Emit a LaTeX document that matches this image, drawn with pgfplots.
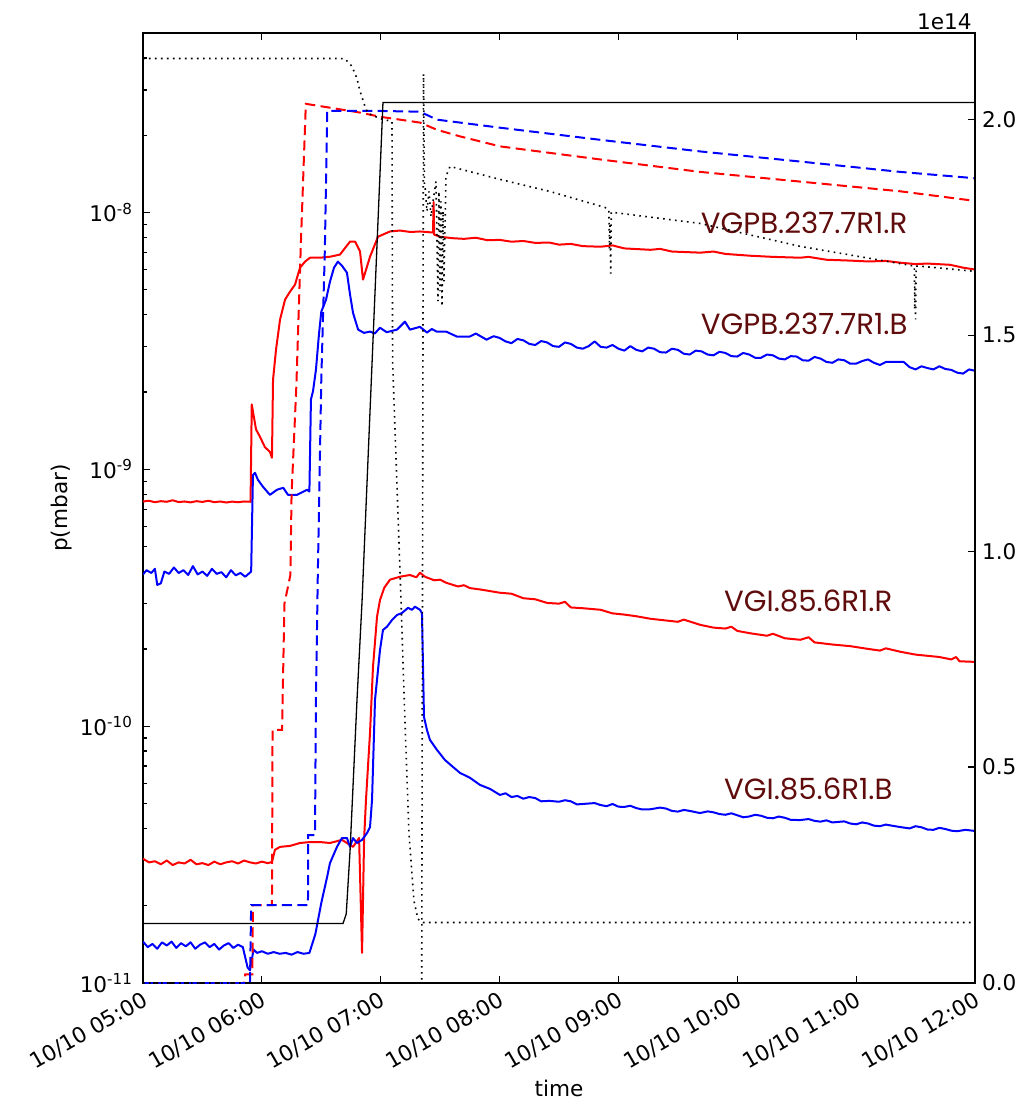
\documentclass[border=0pt]{standalone}
\usepackage{fontspec}
\setmainfont{DejaVu Sans}
\newfontfamily\gaugefont{Poppins}
\usepackage{pgfplots}
\pgfplotsset{compat=1.18}
\definecolor{gaugelabel}{RGB}{96,12,12}
\tikzset{gauge/.style={anchor=west, text=gaugelabel, font=\gaugefont\fontsize{14.6}{16}\selectfont}}
\begin{document}
\begin{tikzpicture}
\pgfplotsset{
  common/.style={
    scale only axis, width=416pt, height=475pt,
    xmin=5, xmax=12,
    tick style={line width=0.6pt, black},
    major tick length=3.5pt, minor tick length=2pt,
    axis line style={line width=0.8pt},
    tick label style={font=\fontsize{10.8}{12.5}\selectfont},
    label style={font=\fontsize{10.8}{12.5}\selectfont},
  },
  pline/.style={line width=1pt, line join=round},
  dline/.style={line width=1pt, dash pattern=on 5pt off 2.7pt},
  bdot/.style={black, line width=0.8pt, dash pattern=on 0.8pt off 2.2pt},
}
% pressure axis (left, logarithmic)
\begin{axis}[common, name=main, ymode=log, ymin=1e-11, ymax=5e-8,
  xtick={5,6,7,8,9,10,11,12},
  xticklabels={10/10 05:00,10/10 06:00,10/10 07:00,10/10 08:00,10/10 09:00,10/10 10:00,10/10 11:00,10/10 12:00},
  xticklabel style={rotate=30, anchor=north east, inner sep=2.5pt},
  ytick={1e-11,1e-10,1e-9,1e-8},
  yticklabels={10\textsuperscript{-11},10\textsuperscript{-10},10\textsuperscript{-9},10\textsuperscript{-8}},
  minor ytick={2e-11,3e-11,4e-11,5e-11,6e-11,7e-11,8e-11,9e-11,2e-10,3e-10,4e-10,5e-10,6e-10,7e-10,8e-10,9e-10,2e-9,3e-9,4e-9,5e-9,6e-9,7e-9,8e-9,9e-9,2e-8,3e-8,4e-8},
  yticklabel style={xshift=-1.5pt},
  ytick pos=left, xtick pos=both,
  xlabel=time, ylabel=p(mbar),
  xlabel style={at={(axis description cs:0.5,-0.1105)}, anchor=center},
  ylabel style={at={(axis description cs:-0.0974,0.5)}, anchor=center},
]
% VGPB.237.7R1.R
\addplot[pline, red] table {
5.00 7.50e-10
5.05 7.55e-10
5.10 7.45e-10
5.15 7.52e-10
5.20 7.48e-10
5.25 7.58e-10
5.30 7.46e-10
5.35 7.50e-10
5.40 7.44e-10
5.45 7.52e-10
5.50 7.47e-10
5.55 7.55e-10
5.60 7.45e-10
5.65 7.50e-10
5.70 7.43e-10
5.75 7.49e-10
5.80 7.45e-10
5.85 7.50e-10
5.905 7.48e-10
5.915 1.79e-9
5.951 1.43e-9
5.984 1.34e-9
6.026 1.22e-9
6.068 1.17e-9
6.085 1.11e-9
6.094 2.23e-9
6.119 2.92e-9
6.153 3.83e-9
6.195 4.58e-9
6.237 4.92e-9
6.279 5.24e-9
6.321 6.10e-9
6.363 6.44e-9
6.405 6.67e-9
6.489 6.67e-9
6.573 6.73e-9
6.657 6.86e-9
6.742 7.71e-9
6.784 7.71e-9
6.826 7.05e-9
6.851 5.48e-9
6.91 6.73e-9
6.977 8.05e-9
7.078 8.44e-9
7.162 8.51e-9
7.25 8.40e-9
7.33 8.44e-9
7.44 8.36e-9
7.445 1.10e-8
7.45 8.20e-9
7.50 8.05e-9
7.60 7.95e-9
7.70 7.90e-9
7.80 7.98e-9
7.90 7.80e-9
8.00 7.83e-9
8.10 7.70e-9
8.20 7.75e-9
8.30 7.62e-9
8.42 7.64e-9
8.50 7.50e-9
8.60 7.55e-9
8.70 7.40e-9
8.85 7.36e-9
8.95 7.45e-9
9.05 7.25e-9
9.27 7.16e-9
9.35 7.22e-9
9.45 7.05e-9
9.69 6.98e-9
9.80 7.05e-9
9.90 6.90e-9
10.11 6.79e-9
10.30 6.72e-9
10.53 6.67e-9
10.60 6.72e-9
10.75 6.55e-9
10.95 6.50e-9
11.10 6.45e-9
11.25 6.48e-9
11.37 6.38e-9
11.50 6.30e-9
11.60 6.33e-9
11.79 6.26e-9
11.90 6.10e-9
12.00 6.00e-9
};
% VGPB.237.7R1.B
\addplot[pline, blue] table {
5.00 3.90e-10
5.03 4.05e-10
5.07 3.95e-10
5.10 4.10e-10
5.12 3.55e-10
5.15 3.60e-10
5.18 4.00e-10
5.22 3.92e-10
5.26 4.15e-10
5.30 3.95e-10
5.34 4.05e-10
5.38 3.88e-10
5.42 4.20e-10
5.46 3.90e-10
5.50 4.00e-10
5.54 3.85e-10
5.58 4.10e-10
5.62 3.92e-10
5.66 3.98e-10
5.70 3.80e-10
5.74 4.05e-10
5.78 3.87e-10
5.82 3.95e-10
5.86 3.82e-10
5.91 4.00e-10
5.925 9.50e-10
5.942 9.70e-10
5.967 9.11e-10
6.009 8.56e-10
6.068 7.96e-10
6.127 8.33e-10
6.18 8.48e-10
6.22 7.96e-10
6.295 7.96e-10
6.38 8.33e-10
6.40 8.20e-10
6.413 1.87e-9
6.43 2.01e-9
6.455 2.44e-9
6.48 3.34e-9
6.50 4.11e-9
6.54 4.58e-9
6.573 5.38e-9
6.607 6.10e-9
6.64 6.44e-9
6.674 6.21e-9
6.716 5.83e-9
6.742 4.79e-9
6.767 4.07e-9
6.81 3.50e-9
6.86 3.40e-9
6.91 3.44e-9
6.95 3.38e-9
6.994 3.56e-9
7.05 3.42e-9
7.137 3.50e-9
7.204 3.76e-9
7.246 3.50e-9
7.33 3.59e-9
7.39 3.41e-9
7.43 3.52e-9
7.47 3.44e-9
7.55 3.44e-9
7.64 3.29e-9
7.75 3.29e-9
7.80 3.38e-9
7.89 3.20e-9
7.95 3.30e-9
8.0 3.25e-9
8.05 3.15e-9
8.1 3.10e-9
8.15 3.22e-9
8.2 3.18e-9
8.25 3.08e-9
8.3 3.05e-9
8.35 3.16e-9
8.4 3.12e-9
8.45 3.02e-9
8.5 3.00e-9
8.55 3.12e-9
8.6 3.08e-9
8.65 2.98e-9
8.7 2.95e-9
8.75 3.02e-9
8.8 3.15e-9
8.85 3.00e-9
8.9 2.98e-9
8.95 3.05e-9
9.0 2.95e-9
9.05 2.90e-9
9.1 3.02e-9
9.15 2.92e-9
9.2 2.88e-9
9.25 2.98e-9
9.3 2.95e-9
9.35 2.86e-9
9.4 2.85e-9
9.45 2.95e-9
9.5 2.92e-9
9.55 2.82e-9
9.6 2.80e-9
9.65 2.90e-9
9.7 2.88e-9
9.75 2.80e-9
9.8 2.78e-9
9.85 2.87e-9
9.9 2.84e-9
9.95 2.76e-9
10.0 2.75e-9
10.05 2.84e-9
10.1 2.80e-9
10.15 2.72e-9
10.2 2.72e-9
10.25 2.80e-9
10.3 2.78e-9
10.35 2.70e-9
10.4 2.68e-9
10.45 2.76e-9
10.5 2.75e-9
10.55 2.66e-9
10.6 2.65e-9
10.65 2.74e-9
10.7 2.70e-9
10.75 2.62e-9
10.8 2.60e-9
10.85 2.68e-9
10.9 2.66e-9
10.95 2.58e-9
11.0 2.58e-9
11.05 2.64e-9
11.1 2.68e-9
11.15 2.60e-9
11.2 2.55e-9
11.25 2.62e-9
11.3 2.62e-9
11.4 2.62e-9
11.45 2.50e-9
11.5 2.45e-9
11.55 2.52e-9
11.6 2.48e-9
11.65 2.45e-9
11.7 2.52e-9
11.75 2.46e-9
11.8 2.44e-9
11.85 2.38e-9
11.9 2.36e-9
11.95 2.45e-9
12.0 2.42e-9
};
% VGI.85.6R1.R
\addplot[pline, red] table {
5.00 3.05e-11
5.05 2.95e-11
5.10 2.98e-11
5.15 2.90e-11
5.20 3.00e-11
5.25 2.88e-11
5.30 2.95e-11
5.35 2.92e-11
5.40 3.02e-11
5.45 2.90e-11
5.50 2.93e-11
5.55 2.88e-11
5.60 2.97e-11
5.65 2.90e-11
5.70 2.95e-11
5.75 2.98e-11
5.80 2.92e-11
5.85 3.00e-11
5.90 2.95e-11
5.95 2.92e-11
6.00 2.97e-11
6.05 2.93e-11
6.085 2.96e-11
6.11 3.30e-11
6.153 3.39e-11
6.237 3.42e-11
6.321 3.51e-11
6.405 3.54e-11
6.489 3.54e-11
6.573 3.51e-11
6.674 3.61e-11
6.716 3.51e-11
6.767 3.39e-11
6.818 3.67e-11
6.843 1.31e-11
6.86 3.61e-11
6.876 5.16e-11
6.91 9.42e-11
6.935 1.70e-10
6.969 2.67e-10
6.994 3.10e-10
7.03 3.46e-10
7.078 3.72e-10
7.162 3.82e-10
7.246 3.88e-10
7.30 3.80e-10
7.33 3.96e-10
7.372 3.82e-10
7.45 3.70e-10
7.50 3.72e-10
7.55 3.62e-10
7.65 3.50e-10
7.70 3.54e-10
7.75 3.45e-10
7.85 3.40e-10
8.0 3.31e-10
8.1 3.28e-10
8.2 3.15e-10
8.3 3.12e-10
8.4 3.02e-10
8.5 3.00e-10
8.55 3.05e-10
8.6 2.90e-10
8.7 2.88e-10
8.85 2.84e-10
8.95 2.75e-10
9.05 2.72e-10
9.15 2.68e-10
9.27 2.62e-10
9.4 2.58e-10
9.5 2.55e-10
9.55 2.60e-10
9.69 2.48e-10
9.8 2.42e-10
9.9 2.40e-10
9.95 2.44e-10
10.0 2.35e-10
10.11 2.30e-10
10.25 2.25e-10
10.3 2.29e-10
10.4 2.20e-10
10.53 2.17e-10
10.6 2.22e-10
10.65 2.12e-10
10.8 2.08e-10
10.95 2.05e-10
11.1 2.00e-10
11.2 1.97e-10
11.25 2.01e-10
11.37 1.95e-10
11.5 1.90e-10
11.6 1.88e-10
11.7 1.86e-10
11.80 1.82e-10
11.84 1.86e-10
11.87 1.79e-10
12.0 1.78e-10
};
% VGI.85.6R1.B
\addplot[pline, blue] table {
5.00 1.45e-11
5.04 1.38e-11
5.08 1.42e-11
5.12 1.36e-11
5.16 1.44e-11
5.20 1.40e-11
5.24 1.45e-11
5.28 1.37e-11
5.32 1.43e-11
5.36 1.39e-11
5.40 1.44e-11
5.44 1.36e-11
5.48 1.41e-11
5.52 1.44e-11
5.56 1.38e-11
5.60 1.42e-11
5.64 1.35e-11
5.68 1.40e-11
5.72 1.43e-11
5.76 1.37e-11
5.80 1.41e-11
5.84 1.38e-11
5.88 1.15e-11
5.90 1.12e-11
5.93 1.35e-11
5.96 1.31e-11
6.00 1.33e-11
6.05 1.30e-11
6.10 1.32e-11
6.15 1.30e-11
6.20 1.31e-11
6.25 1.29e-11
6.30 1.32e-11
6.35 1.30e-11
6.40 1.31e-11
6.45 1.55e-11
6.50 2.05e-11
6.55 2.60e-11
6.573 2.93e-11
6.632 3.39e-11
6.674 3.67e-11
6.716 3.67e-11
6.742 3.39e-11
6.767 3.67e-11
6.80 3.51e-11
6.843 3.61e-11
6.885 3.84e-11
6.91 4.05e-11
6.927 5.16e-11
6.952 1.266e-10
6.994 1.98e-10
7.019 2.37e-10
7.053 2.44e-10
7.095 2.59e-10
7.137 2.71e-10
7.179 2.76e-10
7.23 2.89e-10
7.263 2.84e-10
7.288 2.92e-10
7.33 2.84e-10
7.347 2.76e-10
7.356 1.70e-10
7.364 1.087e-10
7.389 9.67e-11
7.414 8.85e-11
7.473 8.09e-11
7.54 7.39e-11
7.608 6.94e-11
7.667 6.58e-11
7.75 6.30e-11
7.835 5.91e-11
7.92 5.70e-11
8.003 5.40e-11
8.05 5.48e-11
8.1 5.30e-11
8.15 5.35e-11
8.2 5.22e-11
8.25 5.30e-11
8.3 5.25e-11
8.35 5.10e-11
8.42 5.12e-11
8.5 5.08e-11
8.55 5.15e-11
8.6 5.10e-11
8.65 4.96e-11
8.7 4.98e-11
8.8 5.02e-11
8.845 4.94e-11
8.9 4.88e-11
8.95 4.98e-11
9.0 4.86e-11
9.05 4.85e-11
9.1 4.90e-11
9.15 4.80e-11
9.2 4.74e-11
9.27 4.75e-11
9.35 4.82e-11
9.4 4.78e-11
9.45 4.68e-11
9.5 4.65e-11
9.55 4.72e-11
9.6 4.68e-11
9.686 4.59e-11
9.75 4.66e-11
9.8 4.62e-11
9.85 4.55e-11
9.9 4.52e-11
9.95 4.58e-11
10.0 4.50e-11
10.05 4.42e-11
10.1 4.45e-11
10.15 4.52e-11
10.2 4.48e-11
10.25 4.40e-11
10.3 4.38e-11
10.35 4.45e-11
10.4 4.40e-11
10.45 4.32e-11
10.527 4.31e-11
10.6 4.35e-11
10.65 4.28e-11
10.7 4.25e-11
10.75 4.30e-11
10.8 4.22e-11
10.9 4.26e-11
10.95 4.18e-11
11.0 4.15e-11
11.05 4.22e-11
11.1 4.18e-11
11.15 4.10e-11
11.2 4.08e-11
11.25 4.14e-11
11.3 4.10e-11
11.369 4.05e-11
11.45 4.00e-11
11.5 4.08e-11
11.55 4.04e-11
11.6 3.96e-11
11.65 3.95e-11
11.7 4.02e-11
11.75 3.98e-11
11.8 3.92e-11
11.85 3.90e-11
11.92 3.95e-11
12.0 3.91e-11
};
% dashed red gauge
\addplot[dline, red] table {
5.00 1.0e-11
5.85 1.0e-11
5.86 1.08e-11
5.92 1.08e-11
5.925 2.01e-11
6.085 2.01e-11
6.09 9.67e-11
6.17 9.67e-11
6.19 3.0e-10
6.24 3.88e-10
6.25 8.0e-10
6.29 2.1e-9
6.33 8.0e-9
6.37 2.65e-8
6.573 2.56e-8
6.826 2.45e-8
6.994 2.36e-8
7.162 2.30e-8
7.33 2.24e-8
7.473 2.10e-8
7.667 1.98e-8
8.003 1.81e-8
8.845 1.61e-8
9.686 1.44e-8
10.527 1.32e-8
11.369 1.21e-8
12.0 1.11e-8
};
% dashed blue gauge
\addplot[dline, blue] table {
5.00 1.0e-11
5.90 1.0e-11
5.91 2.01e-11
6.388 2.01e-11
6.39 3.77e-11
6.447 3.77e-11
6.455 1.266e-10
6.47 3.72e-10
6.50 2.23e-9
6.53 7.16e-9
6.55 2.49e-8
6.91 2.49e-8
7.33 2.47e-8
7.473 2.30e-8
7.667 2.24e-8
8.003 2.14e-8
8.845 1.92e-8
9.686 1.73e-8
10.527 1.58e-8
11.369 1.44e-8
12.0 1.36e-8
};
\node[gauge] at (axis cs:9.635,9.14e-9) {VGPB.237.7R1.R};
\node[gauge] at (axis cs:9.635,3.69e-9) {VGPB.237.7R1.B};
\node[gauge] at (axis cs:9.83,3.08e-10) {VGI.85.6R1.R};
\node[gauge] at (axis cs:9.83,5.70e-11) {VGI.85.6R1.B};
\end{axis}
% beam axis (right, units of 1e14)
\begin{axis}[common, ymin=0, ymax=2.2,
  axis y line*=right, axis x line=none,
  ytick={0,0.5,1,1.5,2}, yticklabels={0.0,0.5,1.0,1.5,2.0},
]
\addplot[black, line width=0.65pt] table {
5.00 0.138
6.683 0.138
6.71 0.16
6.742 0.306
6.80 0.653
6.843 0.884
7.019 2.039
12.0 2.039
};
\addplot[bdot] table {
5.00 2.141
6.657 2.141
6.70 2.140
6.758 2.123
6.80 2.095
6.826 2.065
6.868 2.030
6.893 2.014
6.994 2.002
7.095 1.995
7.10 1.440
7.171 0.884
7.204 0.606
7.238 0.345
7.28 0.190
7.313 0.148
7.356 0.140
12.0 0.140
};
\addplot[bdot] table {
5.00 0.0
7.345 0.0
7.36 2.105
7.368 1.850
7.373 1.845
7.389 1.787
7.406 1.833
7.423 1.775
7.440 1.810
7.465 1.856
7.482 1.579
7.490 1.833
7.499 1.602
7.507 1.810
7.516 1.567
7.524 1.787
7.532 1.625
7.549 1.868
7.583 1.891
8.003 1.861
8.424 1.833
8.887 1.796
8.92 1.790
8.925 1.700
8.93 1.760
8.935 1.643
8.94 1.785
9.686 1.759
10.527 1.706
10.864 1.690
11.453 1.662
11.49 1.660
11.493 1.560
11.496 1.620
11.50 1.537
11.505 1.660
11.537 1.660
12.0 1.648
};
\end{axis}
\node[anchor=south east, inner sep=1.5pt, font=\fontsize{10.8}{12.5}\selectfont] at (main.north east) {1e14};
\path (main.south west) ++(-71.5pt,-63pt) rectangle ++(504pt,554.5pt);
\end{tikzpicture}
\end{document}
